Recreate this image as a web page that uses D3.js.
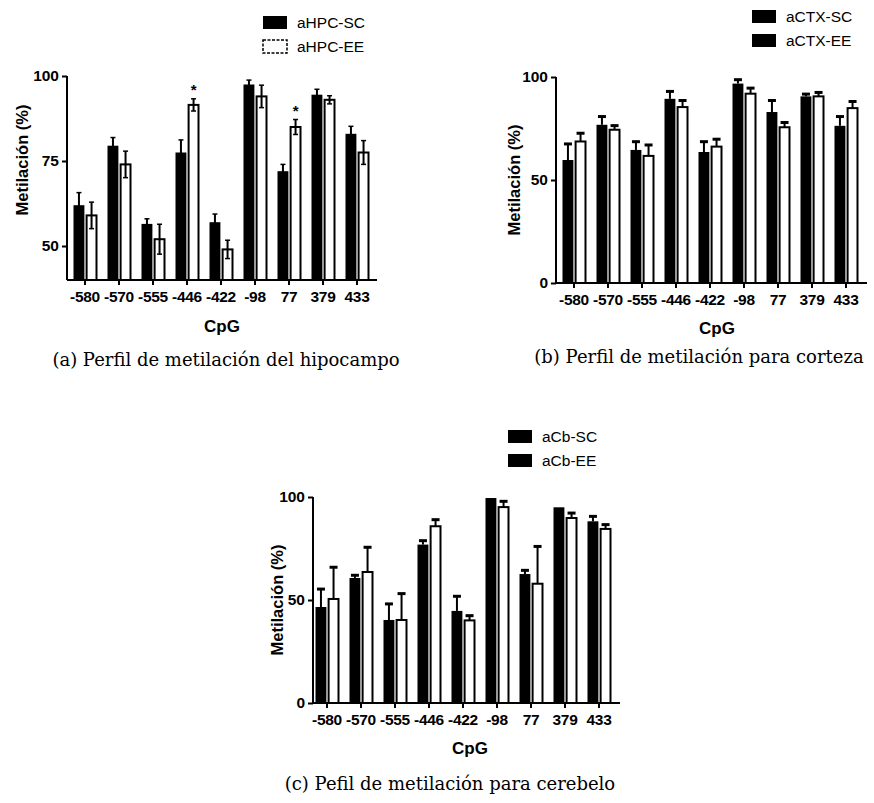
<!DOCTYPE html>
<html>
<head>
<meta charset="utf-8">
<script src="https://cdn.jsdelivr.net/npm/d3@7"></script>
<style>
  body { margin: 0; background: #fff; }
  svg { display: block; }
  .sans { font-family: "Liberation Sans", Arial, sans-serif; }
  .serif { font-family: "DejaVu Serif", serif; }
</style>
</head>
<body>
<div id="chart"></div>
<script>
// CpG positions (x categories)
const cpg = ['-580', '-570', '-555', '-446', '-422', '-98', '77', '379', '433'];

// hipocampo
const hpcSC    = [62, 79.5, 56.5, 77.5, 57, 97.5, 72, 94.5, 83];
const hpcSCErr = [3.7, 2.4, 1.5, 3.7, 2.4, 1.3, 2.0, 1.6, 2.2];
const hpcEE    = [59, 74, 52, 91.5, 49, 94, 85, 93, 77.5];
const hpcEEErr = [3.9, 3.9, 4.4, 1.8, 2.7, 3.3, 2.2, 1.2, 3.5];
const hpcStars = ['-446', '77'];

// corteza
const ctxSC    = [59.7, 76.8, 64.6, 89.4, 63.6, 96.8, 83, 90.6, 76.3];
const ctxSCErr = [7.8, 4, 4, 3.6, 5, 1.9, 5.6, 1.1, 4.5];
const ctxEE    = [68.7, 74.4, 61.7, 85.4, 66.2, 91.9, 75.6, 90.6, 84.9];
const ctxEEErr = [4, 2, 5.3, 3.2, 3.6, 2.7, 2.3, 1.9, 3.2];

// cerebelo
const cbSC    = [46.6, 60.7, 40.3, 76.9, 44.7, 99.5, 62.6, 95, 88.2];
const cbSCErr = [8.7, 1.3, 7.8, 1.9, 7.1, 0, 1.8, 0, 2.4];
const cbEE    = [50.5, 63.6, 40.3, 85.8, 40.1, 95.1, 57.9, 89.8, 84.5];
const cbEEErr = [15.4, 12, 12.8, 3.2, 2.3, 2.8, 18.1, 2.4, 2.1];

const yTicksA = [50, 75, 100];
const yTicksBC = [0, 50, 100];

const width = 874, height = 803;

const svg = d3.select('#chart').append('svg')
  .attr('width', width)
  .attr('height', height);

function drawPanel(p) {
  const g = svg.append('g').attr('class', 'sans');

  const y = d3.scaleLinear().domain(p.domain).range([p.y0, p.y1]);
  const x = d3.scaleBand().domain(cpg)
    .range([p.xFirst - 17, p.xFirst - 17 + 34 * cpg.length]);
  const x1 = d3.scaleBand().domain(['sc', 'ee']).range([-11.5, 11.5]).paddingInner(0.1);

  const rows = cpg.map((c, i) => ({
    c: c,
    vals: [
      {k: 'sc', v: p.sc[i], e: p.scErr[i]},
      {k: 'ee', v: p.ee[i], e: p.eeErr[i]}
    ]
  }));

  const groups = g.selectAll('g.grp').data(rows).enter().append('g')
    .attr('class', 'grp')
    .attr('transform', d => 'translate(' + (x(d.c) + x.bandwidth() / 2) + ',0)');

  // bars
  groups.selectAll('rect').data(d => d.vals).enter().append('rect')
    .attr('x', d => x1(d.k) + (d.k == 'ee' ? 1 : 0))
    .attr('width', d => x1.bandwidth() - (d.k == 'ee' ? 1 : 0))
    .attr('y', d => y(d.v))
    .attr('height', d => y(p.domain[0]) - y(d.v))
    .style('fill', d => d.k == 'sc' ? '#000' : '#fff')
    .style('stroke', '#000')
    .style('stroke-width', d => d.k == 'sc' ? 0 : 2);

  // error bars
  groups.selectAll('g.err').data(d => d.vals.filter(v => v.e > 0)).enter().append('g')
    .attr('class', 'err')
    .each(function(d) {
      const cx = x1(d.k) + x1.bandwidth() / 2 + (d.k == 'ee' ? 0.5 : 0);
      const lo = p.both ? d.v - d.e : d.v;
      const el = d3.select(this);
      el.append('line')
        .attr('x1', cx).attr('x2', cx)
        .attr('y1', y(lo)).attr('y2', y(d.v + d.e))
        .style('stroke', '#000').style('stroke-width', 2);
      el.append('line')
        .attr('x1', cx - p.cap).attr('x2', cx + p.cap)
        .attr('y1', y(d.v + d.e)).attr('y2', y(d.v + d.e))
        .style('stroke', '#000').style('stroke-width', p.capW);
      if (p.both) {
        el.append('line')
          .attr('x1', cx - p.cap).attr('x2', cx + p.cap)
          .attr('y1', y(lo)).attr('y2', y(lo))
          .style('stroke', '#000').style('stroke-width', p.capW);
      }
    });

  // significance stars
  if (p.stars) {
    groups.filter(d => p.stars.indexOf(d.c) >= 0).append('text')
      .attr('x', x1('ee') + x1.bandwidth() / 2 + 0.5)
      .attr('y', d => y(d.vals[1].v + d.vals[1].e) - 4)
      .attr('text-anchor', 'middle')
      .attr('font-size', 15)
      .attr('font-weight', 'bold')
      .text('*');
  }

  // y axis
  const yAxis = g.append('g')
    .attr('transform', 'translate(' + p.axisX + ',0)')
    .call(d3.axisLeft(y).tickValues(p.ticks).tickSize(5).tickPadding(3));
  yAxis.select('.domain').style('stroke-width', 2).attr('d', 'M0,' + y(p.domain[0]) + 'V' + y(p.domain[1]));
  yAxis.selectAll('.tick line').style('stroke-width', 2);
  yAxis.selectAll('.tick text')
    .attr('font-family', '"Liberation Sans", Arial, sans-serif')
    .attr('font-size', 15.5).attr('font-weight', 'bold').attr('fill', '#000');

  // x axis
  const xAxis = g.append('g')
    .attr('transform', 'translate(0,' + y(p.domain[0]) + ')')
    .call(d3.axisBottom(x).tickSize(5).tickSizeOuter(0).tickPadding(6));
  xAxis.select('.domain').style('stroke-width', 2).attr('d', 'M' + p.axisX + ',0H' + p.axisEnd);
  xAxis.selectAll('.tick line').style('stroke-width', 2);
  xAxis.selectAll('.tick text')
    .attr('font-family', '"Liberation Sans", Arial, sans-serif')
    .attr('font-size', 15.5).attr('font-weight', 'bold').attr('fill', '#000')
    .attr('letter-spacing', -0.3);

  // axis titles
  g.append('text')
    .attr('transform', 'translate(' + p.yLabelX + ',' + p.yLabelY + ') rotate(-90)')
    .attr('text-anchor', 'middle')
    .attr('dy', '0.35em')
    .attr('font-size', 16.5).attr('font-weight', 'bold')
    .text('Metilación (%)');
  g.append('text')
    .attr('x', p.cpgX).attr('y', p.cpgY)
    .attr('text-anchor', 'middle')
    .attr('dy', '0.35em')
    .attr('font-size', 17).attr('font-weight', 'bold')
    .text('CpG');

  // legend
  const leg = g.append('g').attr('transform', 'translate(' + p.legX + ',' + p.legY + ')');
  p.legend.forEach((l, i) => {
    leg.append('rect')
      .attr('x', 0).attr('y', i * 24)
      .attr('width', 24).attr('height', 13)
      .style('fill', l.white ? '#fff' : '#000')
      .style('stroke', '#000')
      .style('stroke-width', l.white ? 1.5 : 0)
      .style('stroke-dasharray', l.white ? '3,1.5' : null);
    leg.append('text')
      .attr('x', 34).attr('y', i * 24 + 6.5)
      .attr('dy', '0.35em')
      .attr('font-size', 15.5)
      .text(l.name);
  });

  // caption
  svg.append('text')
    .attr('class', 'serif')
    .attr('x', p.capX).attr('y', p.capY)
    .attr('text-anchor', 'middle')
    .attr('dy', '0.35em')
    .attr('font-size', 18)
    .text(p.caption);
}

drawPanel({
  sc: hpcSC, scErr: hpcSCErr, ee: hpcEE, eeErr: hpcEEErr, stars: hpcStars,
  domain: [40, 100], ticks: yTicksA, y0: 280, y1: 76,
  axisX: 67, axisEnd: 377, xFirst: 85,
  both: true, cap: 2.5, capW: 1.5,
  yLabelX: 22, yLabelY: 160, cpgX: 222, cpgY: 326,
  legX: 263, legY: 16,
  legend: [{name: 'aHPC-SC'}, {name: 'aHPC-EE', white: true}],
  capX: 226, capY: 360, caption: '(a) Perfil de metilación del hipocampo'
});

drawPanel({
  sc: ctxSC, scErr: ctxSCErr, ee: ctxEE, eeErr: ctxEEErr,
  domain: [0, 100], ticks: yTicksBC, y0: 283, y1: 77,
  axisX: 556, axisEnd: 867, xFirst: 574,
  both: false, cap: 4, capW: 3,
  yLabelX: 514, yLabelY: 180, cpgX: 717, cpgY: 328,
  legX: 752, legY: 10,
  legend: [{name: 'aCTX-SC'}, {name: 'aCTX-EE'}],
  capX: 699, capY: 357, caption: '(b) Perfil de metilación para corteza'
});

drawPanel({
  sc: cbSC, scErr: cbSCErr, ee: cbEE, eeErr: cbEEErr,
  domain: [0, 100], ticks: yTicksBC, y0: 703, y1: 497,
  axisX: 313, axisEnd: 620, xFirst: 327,
  both: false, cap: 4, capW: 3,
  yLabelX: 277, yLabelY: 600, cpgX: 470, cpgY: 748,
  legX: 508, legY: 430,
  legend: [{name: 'aCb-SC'}, {name: 'aCb-EE'}],
  capX: 450, capY: 784, caption: '(c) Pefil de metilación para cerebelo'
});
</script>
</body>
</html>
